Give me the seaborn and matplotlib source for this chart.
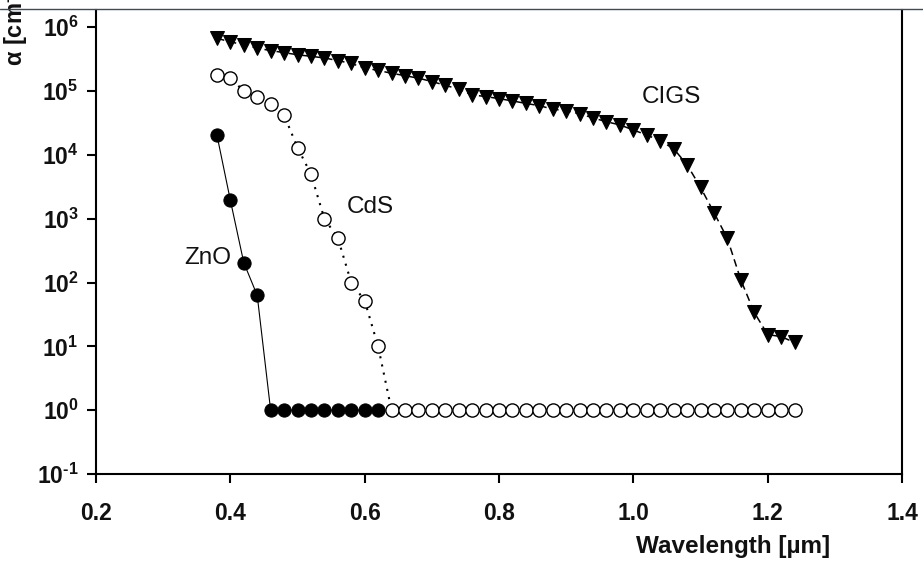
import matplotlib
matplotlib.use("Agg")
import matplotlib.pyplot as plt
from matplotlib.lines import Line2D
from matplotlib.ticker import FixedLocator, NullLocator
import seaborn as sns
import pandas as pd

# ---------------- data ----------------
wl_full = [0.38, 0.40, 0.42, 0.44, 0.46, 0.48, 0.50, 0.52, 0.54, 0.56, 0.58,
           0.60, 0.62, 0.64, 0.66, 0.68, 0.70, 0.72, 0.74, 0.76, 0.78, 0.80,
           0.82, 0.84, 0.86, 0.88, 0.90, 0.92, 0.94, 0.96, 0.98, 1.00, 1.02,
           1.04, 1.06, 1.08, 1.10, 1.12, 1.14, 1.16, 1.18, 1.20, 1.22, 1.24]

zno_wl = [0.38, 0.40, 0.42, 0.44, 0.46, 0.48, 0.50, 0.52, 0.54, 0.56, 0.58,
          0.60, 0.62]
zno_alpha = [2.05e4, 1.95e3, 2.05e2, 63, 1, 1, 1, 1, 1, 1, 1, 1, 1]

cds_alpha = [1.8e5, 1.6e5, 1.0e5, 8.0e4, 6.3e4, 4.2e4, 1.3e4, 5.0e3, 1.0e3,
             5.0e2, 1.0e2, 5.2e1, 1.0e1,
             1, 1, 1, 1, 1, 1, 1, 1, 1, 1, 1, 1, 1, 1, 1, 1, 1, 1, 1, 1,
             1, 1, 1, 1, 1, 1, 1, 1, 1, 1, 1]

cigs_alpha = [6.7e5, 5.9e5, 5.3e5, 4.7e5, 4.3e5, 4.0e5, 3.7e5, 3.5e5, 3.3e5,
              3.0e5, 2.7e5, 2.3e5, 2.1e5, 1.9e5, 1.74e5, 1.59e5, 1.41e5,
              1.23e5, 1.07e5, 8.7e4, 8.2e4, 7.6e4, 7.0e4, 6.4e4, 5.9e4,
              5.2e4, 4.9e4, 4.4e4, 3.8e4, 3.3e4, 2.95e4, 2.45e4, 2.05e4,
              1.66e4, 1.25e4, 7.0e3, 3.1e3, 1.25e3, 4.9e2, 1.1e2, 34, 15.3,
              14.2, 11.5]

x_ticks = [0.2, 0.4, 0.6, 0.8, 1.0, 1.2, 1.4]
x_tick_labels = ["0.2", "0.4", "0.6", "0.8", "1.0", "1.2", "1.4"]
y_exponents = [-1, 0, 1, 2, 3, 4, 5, 6]

series_labels = ["ZnO", "CdS", "CIGS"]
label_pos = [(0.332, 245), (0.574, 1.55e3), (1.013, 8.1e4)]

# ---------------- style ----------------
sns.set_theme(style="white")
plt.rcParams["font.family"] = ["Liberation Sans", "DejaVu Sans"]
plt.rcParams["mathtext.fontset"] = "custom"
plt.rcParams["mathtext.rm"] = "Liberation Sans:bold"
plt.rcParams["mathtext.bf"] = "Liberation Sans:bold"
plt.rcParams["mathtext.it"] = "Liberation Sans:bold:italic"
plt.rcParams["mathtext.sf"] = "Liberation Sans:bold"

fig = plt.figure(figsize=(9.23, 5.63), dpi=100)
ax = fig.add_axes([96 / 923, 1 - 474 / 563, 806 / 923, 464 / 563])

cigs_df = pd.DataFrame({"wl": wl_full, "alpha": cigs_alpha})
cds_df = pd.DataFrame({"wl": wl_full, "alpha": cds_alpha})
zno_df = pd.DataFrame({"wl": zno_wl, "alpha": zno_alpha})

sns.lineplot(data=cigs_df, x="wl", y="alpha", ax=ax, color="black",
             linewidth=1.1, linestyle=(0, (5, 3)), marker="v",
             markersize=10, markerfacecolor="black", markeredgecolor="black",
             estimator=None, sort=False)
sns.lineplot(data=cds_df, x="wl", y="alpha", ax=ax, color="black",
             linewidth=1.5, linestyle=(0, (1, 3)), marker="o",
             markersize=9.5, markerfacecolor="white", markeredgecolor="black",
             markeredgewidth=1.0, estimator=None, sort=False)
sns.lineplot(data=zno_df, x="wl", y="alpha", ax=ax, color="black",
             linewidth=0.8, linestyle="-", marker="o",
             markersize=9.5, markerfacecolor="black", markeredgecolor="black",
             estimator=None, sort=False)

ax.set_yscale("log")
ax.set_xlim(0.2, 1.4)
ax.set_ylim(0.1, 1.86e6)

ax.xaxis.set_major_locator(FixedLocator(x_ticks))
ax.set_xticklabels(x_tick_labels)
y_ticks = [10.0 ** e for e in y_exponents]
ax.yaxis.set_major_locator(FixedLocator(y_ticks))
ax.yaxis.set_minor_locator(NullLocator())
ax.set_yticklabels(["10$^{\\text{%d}}$" % e for e in y_exponents])

for lab in ax.get_xticklabels() + ax.get_yticklabels():
    lab.set_fontweight("bold")
    lab.set_fontsize(16.5)
    lab.set_color("#111111")

ax.tick_params(axis="both", which="major", direction="out", length=6.5,
               width=1.5, color="black", left=True, bottom=True)
ax.tick_params(axis="x", pad=14)
ax.tick_params(axis="y", pad=6)

for side in ["left", "bottom", "right"]:
    ax.spines[side].set_visible(True)
    ax.spines[side].set_color("black")
    ax.spines[side].set_linewidth(1.5)
ax.spines["top"].set_visible(False)

ax.set_xlabel("Wavelength [µm]", fontsize=17.5, fontweight="bold",
              ha="right", va="center", color="#111111")
ax.xaxis.set_label_coords((830 - 96) / 806, (474 - 546) / 464)
ax.set_ylabel("α [cm$^{\\text{-1}}$]", fontsize=17, fontweight="bold",
              ha="left", color="#111111")
ax.yaxis.set_label_coords((30 - 96) / 806, (474 - 66) / 464)

for text, (tx, ty) in zip(series_labels, label_pos):
    ax.text(tx, ty, text, fontsize=17.5, ha="left", va="center",
            color="#111111")

fig.add_artist(Line2D([0, 1], [1 - 9 / 563, 1 - 9 / 563],
                      transform=fig.transFigure, color="#3c4a5c",
                      linewidth=1.0))

fig.savefig("out.png", dpi=100, facecolor="white")
